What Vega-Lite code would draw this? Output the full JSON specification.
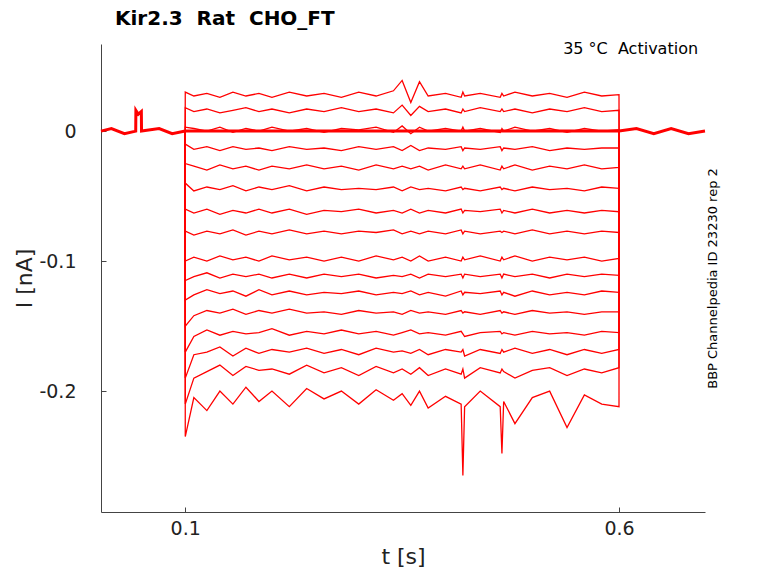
{
  "$schema": "https://vega.github.io/schema/vega-lite/v6.json",
  "width": 604,
  "height": 468,
  "autosize": {"type": "none"},
  "padding": {"left": 101, "top": 44, "right": 73, "bottom": 71},
  "title": {"text": "Kir2.3\u00a0\u00a0Rat\u00a0\u00a0CHO_FT", "anchor": "start", "frame": "group", "offset": 12, "fontSize": 20, "fontWeight": "bold", "font": "DejaVu Sans", "dx": 14, "color": "#000"},
  "config": {"view": {"stroke": null}, "font": "DejaVu Sans"},
  "datasets": {
    "sweeps": [
      {"t":0.1,"a":0,"b":0,"c":0,"d":0,"e":0,"f":0,"g":0,"h":0,"i":0,"j":0,"k":0,"l":0,"m":0,"n":0,"o":0,"p":0},
      {"t":0.1001,"a":0.03,"b":0.018,"c":0.003,"d":-0.01,"e":-0.025,"f":-0.04,"g":-0.06,"h":-0.077,"i":-0.1,"j":-0.115,"k":-0.13,"l":-0.15,"m":-0.17,"n":-0.19,"o":-0.21,"p":-0.235},
      {"t":0.11,"a":0.027,"b":0.015,"c":0.002,"d":-0.014,"e":-0.027,"f":-0.046,"g":-0.063,"h":-0.08,"i":-0.097,"j":-0.112,"k":-0.126,"l":-0.142,"m":-0.158,"n":-0.172,"o":-0.19,"p":-0.205},
      {"t":0.125,"a":0.029,"b":0.017,"c":0,"d":-0.012,"e":-0.03,"f":-0.043,"g":-0.06,"h":-0.077,"i":-0.1,"j":-0.109,"k":-0.122,"l":-0.138,"m":-0.153,"n":-0.17,"o":-0.185,"p":-0.215},
      {"t":0.14,"a":0.026,"b":0.014,"c":0.003,"d":-0.015,"e":-0.026,"f":-0.045,"g":-0.064,"h":-0.079,"i":-0.096,"j":-0.113,"k":-0.125,"l":-0.14,"m":-0.157,"n":-0.166,"o":-0.18,"p":-0.2},
      {"t":0.155,"a":0.03,"b":0.016,"c":-0.001,"d":-0.012,"e":-0.029,"f":-0.042,"g":-0.061,"h":-0.076,"i":-0.099,"j":-0.11,"k":-0.123,"l":-0.137,"m":-0.154,"n":-0.173,"o":-0.188,"p":-0.21},
      {"t":0.17,"a":0.027,"b":0.018,"c":0.002,"d":-0.014,"e":-0.027,"f":-0.046,"g":-0.063,"h":-0.08,"i":-0.097,"j":-0.112,"k":-0.127,"l":-0.141,"m":-0.156,"n":-0.167,"o":-0.181,"p":-0.197},
      {"t":0.185,"a":0.029,"b":0.015,"c":0,"d":-0.013,"e":-0.03,"f":-0.043,"g":-0.06,"h":-0.077,"i":-0.1,"j":-0.11,"k":-0.122,"l":-0.138,"m":-0.155,"n":-0.171,"o":-0.184,"p":-0.208},
      {"t":0.2,"a":0.026,"b":0.017,"c":0.003,"d":-0.015,"e":-0.027,"f":-0.045,"g":-0.063,"h":-0.079,"i":-0.096,"j":-0.113,"k":-0.126,"l":-0.14,"m":-0.152,"n":-0.168,"o":-0.183,"p":-0.2},
      {"t":0.22,"a":0.03,"b":0.014,"c":0,"d":-0.012,"e":-0.029,"f":-0.042,"g":-0.06,"h":-0.076,"i":-0.099,"j":-0.11,"k":-0.123,"l":-0.137,"m":-0.157,"n":-0.17,"o":-0.187,"p":-0.212},
      {"t":0.24,"a":0.027,"b":0.017,"c":0.002,"d":-0.014,"e":-0.026,"f":-0.046,"g":-0.064,"h":-0.079,"i":-0.097,"j":-0.113,"k":-0.126,"l":-0.14,"m":-0.154,"n":-0.167,"o":-0.18,"p":-0.198},
      {"t":0.26,"a":0.029,"b":0.015,"c":-0.001,"d":-0.013,"e":-0.029,"f":-0.043,"g":-0.061,"h":-0.077,"i":-0.1,"j":-0.11,"k":-0.124,"l":-0.139,"m":-0.156,"n":-0.171,"o":-0.186,"p":-0.206},
      {"t":0.28,"a":0.026,"b":0.018,"c":0.002,"d":-0.015,"e":-0.027,"f":-0.045,"g":-0.062,"h":-0.079,"i":-0.097,"j":-0.112,"k":-0.125,"l":-0.141,"m":-0.153,"n":-0.168,"o":-0.182,"p":-0.2},
      {"t":0.3,"a":0.03,"b":0.015,"c":0.001,"d":-0.012,"e":-0.03,"f":-0.044,"g":-0.06,"h":-0.077,"i":-0.1,"j":-0.11,"k":-0.123,"l":-0.138,"m":-0.156,"n":-0.172,"o":-0.188,"p":-0.21},
      {"t":0.32,"a":0.027,"b":0.017,"c":0.003,"d":-0.014,"e":-0.026,"f":-0.045,"g":-0.063,"h":-0.078,"i":-0.096,"j":-0.113,"k":-0.126,"l":-0.14,"m":-0.154,"n":-0.167,"o":-0.181,"p":-0.199},
      {"t":0.34,"a":0.031,"b":0.014,"c":-0.001,"d":-0.012,"e":-0.029,"f":-0.043,"g":-0.061,"h":-0.076,"i":-0.099,"j":-0.111,"k":-0.124,"l":-0.139,"m":-0.157,"n":-0.17,"o":-0.186,"p":-0.207},
      {"t":0.35,"a":0.039,"b":0.02,"c":0.004,"d":-0.015,"e":-0.027,"f":-0.046,"g":-0.063,"h":-0.079,"i":-0.097,"j":-0.112,"k":-0.125,"l":-0.141,"m":-0.155,"n":-0.169,"o":-0.183,"p":-0.202},
      {"t":0.36,"a":0.022,"b":0.012,"c":-0.002,"d":-0.011,"e":-0.029,"f":-0.043,"g":-0.06,"h":-0.077,"i":-0.1,"j":-0.11,"k":-0.123,"l":-0.138,"m":-0.153,"n":-0.171,"o":-0.187,"p":-0.211},
      {"t":0.37,"a":0.038,"b":0.019,"c":0.003,"d":-0.015,"e":-0.027,"f":-0.045,"g":-0.063,"h":-0.079,"i":-0.096,"j":-0.113,"k":-0.126,"l":-0.14,"m":-0.156,"n":-0.168,"o":-0.182,"p":-0.2},
      {"t":0.38,"a":0.027,"b":0.015,"c":0,"d":-0.013,"e":-0.03,"f":-0.044,"g":-0.061,"h":-0.077,"i":-0.1,"j":-0.11,"k":-0.124,"l":-0.139,"m":-0.155,"n":-0.172,"o":-0.188,"p":-0.213},
      {"t":0.4,"a":0.029,"b":0.017,"c":0.002,"d":-0.014,"e":-0.026,"f":-0.046,"g":-0.063,"h":-0.079,"i":-0.097,"j":-0.112,"k":-0.127,"l":-0.141,"m":-0.157,"n":-0.168,"o":-0.183,"p":-0.204},
      {"t":0.418,"a":0.026,"b":0.014,"c":0,"d":-0.012,"e":-0.029,"f":-0.043,"g":-0.06,"h":-0.076,"i":-0.1,"j":-0.11,"k":-0.123,"l":-0.138,"m":-0.154,"n":-0.17,"o":-0.187,"p":-0.21},
      {"t":0.42,"a":0.03,"b":0.017,"c":0.003,"d":-0.015,"e":-0.027,"f":-0.045,"g":-0.063,"h":-0.079,"i":-0.097,"j":-0.113,"k":-0.126,"l":-0.14,"m":-0.156,"n":-0.168,"o":-0.183,"p":-0.265},
      {"t":0.422,"a":0.027,"b":0.015,"c":0,"d":-0.013,"e":-0.029,"f":-0.044,"g":-0.061,"h":-0.077,"i":-0.099,"j":-0.11,"k":-0.124,"l":-0.139,"m":-0.158,"n":-0.173,"o":-0.19,"p":-0.212},
      {"t":0.44,"a":0.029,"b":0.018,"c":0.002,"d":-0.014,"e":-0.026,"f":-0.046,"g":-0.062,"h":-0.079,"i":-0.096,"j":-0.112,"k":-0.125,"l":-0.141,"m":-0.155,"n":-0.168,"o":-0.182,"p":-0.2},
      {"t":0.463,"a":0.026,"b":0.015,"c":-0.001,"d":-0.012,"e":-0.03,"f":-0.043,"g":-0.06,"h":-0.077,"i":-0.1,"j":-0.11,"k":-0.123,"l":-0.138,"m":-0.154,"n":-0.171,"o":-0.186,"p":-0.212},
      {"t":0.465,"a":0.029,"b":0.017,"c":0.002,"d":-0.015,"e":-0.027,"f":-0.045,"g":-0.063,"h":-0.078,"i":-0.097,"j":-0.113,"k":-0.126,"l":-0.14,"m":-0.156,"n":-0.168,"o":-0.183,"p":-0.248},
      {"t":0.467,"a":0.027,"b":0.015,"c":0,"d":-0.013,"e":-0.029,"f":-0.044,"g":-0.061,"h":-0.077,"i":-0.099,"j":-0.11,"k":-0.124,"l":-0.139,"m":-0.155,"n":-0.17,"o":-0.185,"p":-0.208},
      {"t":0.48,"a":0.03,"b":0.017,"c":0.003,"d":-0.014,"e":-0.026,"f":-0.046,"g":-0.063,"h":-0.079,"i":-0.096,"j":-0.112,"k":-0.127,"l":-0.141,"m":-0.157,"n":-0.167,"o":-0.19,"p":-0.225},
      {"t":0.5,"a":0.027,"b":0.014,"c":0,"d":-0.012,"e":-0.03,"f":-0.043,"g":-0.06,"h":-0.076,"i":-0.1,"j":-0.11,"k":-0.123,"l":-0.138,"m":-0.154,"n":-0.171,"o":-0.184,"p":-0.205},
      {"t":0.52,"a":0.029,"b":0.017,"c":0.002,"d":-0.015,"e":-0.027,"f":-0.045,"g":-0.063,"h":-0.079,"i":-0.097,"j":-0.113,"k":-0.126,"l":-0.14,"m":-0.156,"n":-0.168,"o":-0.182,"p":-0.2},
      {"t":0.54,"a":0.026,"b":0.015,"c":-0.001,"d":-0.013,"e":-0.029,"f":-0.044,"g":-0.061,"h":-0.077,"i":-0.099,"j":-0.11,"k":-0.124,"l":-0.139,"m":-0.155,"n":-0.172,"o":-0.188,"p":-0.228},
      {"t":0.56,"a":0.03,"b":0.018,"c":0.002,"d":-0.014,"e":-0.026,"f":-0.046,"g":-0.063,"h":-0.079,"i":-0.097,"j":-0.112,"k":-0.126,"l":-0.141,"m":-0.157,"n":-0.168,"o":-0.183,"p":-0.203},
      {"t":0.58,"a":0.027,"b":0.015,"c":0,"d":-0.013,"e":-0.029,"f":-0.043,"g":-0.061,"h":-0.077,"i":-0.1,"j":-0.11,"k":-0.123,"l":-0.139,"m":-0.154,"n":-0.171,"o":-0.186,"p":-0.21},
      {"t":0.5999,"a":0.028,"b":0.016,"c":0.001,"d":-0.013,"e":-0.028,"f":-0.044,"g":-0.062,"h":-0.078,"i":-0.098,"j":-0.111,"k":-0.124,"l":-0.139,"m":-0.155,"n":-0.168,"o":-0.182,"p":-0.212},
      {"t":0.6,"a":0,"b":0,"c":0,"d":0,"e":0,"f":0,"g":0,"h":0,"i":0,"j":0,"k":0,"l":0,"m":0,"n":0,"o":0,"p":0}
    ],
    "baseline": [
      {"t":0.003,"i":0},{"t":0.015,"i":0.002},{"t":0.03,"i":-0.002},{"t":0.043,"i":0},
      {"t":0.0432,"i":0.016},{"t":0.046,"i":0.013},{"t":0.0495,"i":0.015},{"t":0.0497,"i":0},
      {"t":0.07,"i":0.002},{"t":0.085,"i":-0.002},{"t":0.1,"i":0},
      {"t":0.6,"i":0},{"t":0.62,"i":0.002},{"t":0.64,"i":-0.002},{"t":0.66,"i":0.002},{"t":0.68,"i":-0.002},{"t":0.699,"i":0}
    ],
    "label": [{"t":0.691,"i":0.063,"txt":"35 °C\u00a0\u00a0Activation"}]
  },
  "layer": [
    {
      "data": {"name": "sweeps"},
      "transform": [{"fold": ["a","b","c","d","e","f","g","h","i","j","k","l","m","n","o","p"], "as": ["sweep","i"]}],
      "mark": {"type": "line", "color": "#ff0000", "strokeWidth": 1.3, "clip": true},
      "encoding": {
        "x": {"field": "t", "type": "quantitative", "scale": {"domain": [0.003, 0.699], "nice": false, "zero": false},
          "axis": {"values": [0.1, 0.6], "format": "~g", "title": "t [s]", "titleFontSize": 22, "titleFontWeight": "normal", "labelFontSize": 19, "tickSize": -5, "grid": false, "domainColor": "#444", "tickColor": "#444", "labelColor": "#222", "titleColor": "#222", "labelPadding": 12, "titlePadding": 8}},
        "y": {"field": "i", "type": "quantitative", "scale": {"domain": [-0.293, 0.067], "nice": false, "zero": false},
          "axis": {"values": [-0.2, -0.1, 0], "format": "~g", "labelExpr": "replace(datum.label, '\u2212', '-')", "title": "I [nA]", "titleFontSize": 22, "titleFontWeight": "normal", "labelFontSize": 19, "tickSize": -5, "grid": false, "domainColor": "#444", "tickColor": "#444", "labelColor": "#222", "titleColor": "#222", "labelPadding": 30, "titlePadding": 2}},
        "detail": {"field": "sweep", "type": "nominal"}
      }
    },
    {
      "data": {"name": "baseline"},
      "mark": {"type": "line", "color": "#ff0000", "strokeWidth": 3},
      "encoding": {
        "x": {"field": "t", "type": "quantitative"},
        "y": {"field": "i", "type": "quantitative",
          "axis": {"orient": "right", "title": "BBP Channelpedia ID 23230 rep 2", "titleAngle": 270, "titleFontSize": 13, "titleFontWeight": "normal", "titleColor": "#000", "labels": false, "ticks": false, "domain": false, "grid": false, "titlePadding": 14}}
      }
    },
    {
      "data": {"name": "label"},
      "mark": {"type": "text", "align": "right", "fontSize": 16, "color": "#000"},
      "encoding": {
        "x": {"field": "t", "type": "quantitative"},
        "y": {"field": "i", "type": "quantitative", "axis": null},
        "text": {"field": "txt"}
      }
    }
  ],
  "resolve": {"axis": {"y": "independent"}}
}
